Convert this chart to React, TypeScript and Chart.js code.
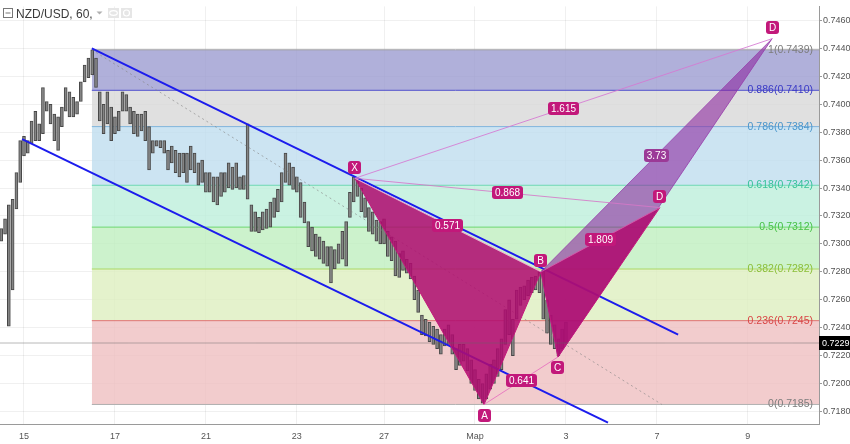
import React, { useEffect, useRef } from 'react';
import { Chart, registerables } from 'chart.js';

Chart.register(...registerables);

// 2-hour bars, NZD/USD (high / low)
const barHigh = [
  0.7311, 0.7318, 0.7328, 0.7332, 0.7351, 0.7374, 0.7377, 0.7374, 0.7388, 0.7395,
  0.7386, 0.7412, 0.7402, 0.7400, 0.7393, 0.7391, 0.7398, 0.7412, 0.7409, 0.7405,
  0.7402, 0.7416, 0.7428, 0.7433, 0.7439, 0.7433, 0.7409, 0.7400, 0.7409, 0.7398,
  0.7391, 0.7395, 0.7409, 0.7407, 0.7398, 0.7395, 0.7393, 0.7393, 0.7395, 0.7384,
  0.7374, 0.7374, 0.7374, 0.7374, 0.7367, 0.7370, 0.7367, 0.7365, 0.7365, 0.7365,
  0.7370, 0.7365, 0.7358, 0.7360, 0.7351, 0.7351, 0.7348, 0.7348, 0.7351, 0.7351,
  0.7358, 0.7355, 0.7358, 0.7348, 0.7349, 0.7386, 0.7328, 0.7323, 0.7319, 0.7323,
  0.7325, 0.7330, 0.7333, 0.7339, 0.7351, 0.7365, 0.7358, 0.7355, 0.7348, 0.7344,
  0.7330, 0.7316, 0.7312, 0.7307, 0.7305, 0.7302, 0.7298, 0.7298, 0.7296, 0.7300,
  0.7309, 0.7316, 0.7337, 0.7348, 0.7346, 0.7340, 0.7333, 0.7326, 0.7323, 0.7317,
  0.7316, 0.7318, 0.7309, 0.7305, 0.7302, 0.7293, 0.7295, 0.7289, 0.7286, 0.7277,
  0.7267, 0.7249, 0.7246, 0.7244, 0.7241, 0.7239, 0.7235, 0.7239, 0.7242, 0.7235,
  0.7225, 0.7228, 0.7228, 0.7225, 0.7217, 0.7210, 0.7203, 0.7200, 0.7207, 0.7214,
  0.7217, 0.7225, 0.7232, 0.7253, 0.7260, 0.7246, 0.7267, 0.7269, 0.7270, 0.7274,
  0.7276, 0.7277, 0.7280, 0.7281, 0.7260, 0.7249, 0.7242, 0.7232, 0.7239, 0.7244,
];
const barLow = [
  0.7302, 0.7307, 0.7241, 0.7267, 0.7325, 0.7344, 0.7363, 0.7365, 0.7372, 0.7374,
  0.7374, 0.7379, 0.7395, 0.7386, 0.7374, 0.7367, 0.7384, 0.7395, 0.7391, 0.7391,
  0.7393, 0.7402, 0.7416, 0.7419, 0.7421, 0.7412, 0.7388, 0.7379, 0.7386, 0.7374,
  0.7379, 0.7381, 0.7395, 0.7395, 0.7386, 0.7379, 0.7377, 0.7381, 0.7374, 0.7353,
  0.7365, 0.7370, 0.7369, 0.7365, 0.7353, 0.7358, 0.7351, 0.7348, 0.7351, 0.7344,
  0.7353, 0.7351, 0.7342, 0.7344, 0.7337, 0.7337, 0.7330, 0.7328, 0.7334, 0.7337,
  0.7340, 0.7339, 0.7340, 0.7339, 0.7339, 0.7332, 0.7309, 0.7309, 0.7308, 0.7310,
  0.7311, 0.7312, 0.7319, 0.7323, 0.7330, 0.7344, 0.7342, 0.7339, 0.7337, 0.7319,
  0.7315, 0.7298, 0.7295, 0.7291, 0.7289, 0.7286, 0.7284, 0.7272, 0.7282, 0.7286,
  0.7289, 0.7284, 0.7319, 0.7330, 0.7334, 0.7323, 0.7319, 0.7309, 0.7307, 0.7302,
  0.7300, 0.7300, 0.7291, 0.7288, 0.7277, 0.7276, 0.7281, 0.7279, 0.7275, 0.7260,
  0.7251, 0.7235, 0.7234, 0.7230, 0.7228, 0.7225, 0.7221, 0.7227, 0.7228, 0.7221,
  0.7210, 0.7213, 0.7216, 0.7209, 0.7200, 0.7195, 0.7189, 0.7186, 0.7189, 0.7196,
  0.7200, 0.7205, 0.7210, 0.7228, 0.7235, 0.7220, 0.7246, 0.7256, 0.7260, 0.7263,
  0.7265, 0.7267, 0.7265, 0.7246, 0.7236, 0.7228, 0.7225, 0.7220, 0.7225, 0.7229,
];

// time axis (in bar units) and price axis
const dayTickBars = [6, 30, 54, 78, 101, 125, 149, 173, 197];
const dayTickLabels = ['15', '17', '21', '23', '27', 'Мар', '3', '7', '9'];
const priceTicks = [
  0.718, 0.72, 0.722, 0.724, 0.726, 0.728, 0.73, 0.732,
  0.734, 0.736, 0.738, 0.74, 0.742, 0.744, 0.746,
];
const X_MIN = -0.33;
const X_MAX = 215.77;
const Y_MIN = 0.7171;
const Y_MAX = 0.74701;

// Fibonacci retracement
const fibRatios = ['1', '0.886', '0.786', '0.618', '0.5', '0.382', '0.236', '0'];
const fibPrices = [0.7439, 0.741, 0.7384, 0.7342, 0.7312, 0.7282, 0.7245, 0.7185];
const fibStartBar = 23.9;
const fibTrendBars = [23.9, 174.3];
const fibTrendPrices = [0.7439, 0.7185];

// channel
const upperChannelBars = [23.9, 178.6];
const upperChannelPrices = [0.744, 0.7235];
const lowerChannelBars = [5.5, 160.1];
const lowerChannelPrices = [0.7375, 0.7172];

// XABCD pattern
const patternNames = ['X', 'A', 'B', 'C', 'D'];
const patternBars = [93.3, 127.4, 142.4, 146.9, 173.8];
const patternPrices = [0.7347, 0.7185, 0.728, 0.7219, 0.7326];
const altDBar = 203.4;
const altDPrice = 0.7447;
const ratioLabels = ['0.571', '0.641', '1.809', '0.868'];
const ratioFrom = [0, 1, 2, 0];
const ratioTo = [2, 3, 4, 4];
const altRatioLabels = ['3.73', '1.615'];
const altRatioFrom = [2, 0];

const lastPrice = 0.7229;

// styles
const FONT = '"Liberation Sans", Arial, sans-serif';
const fibLineColors = ['#a0a0a0', '#5050cc', '#80b4dc', '#6cd8b2', '#6cd66c', '#acd866', '#e07272', '#b0b0b0'];
const fibLabelColors = ['#7c7c7c', '#3a3ac6', '#4a96cc', '#38c29a', '#48c248', '#8cbf3a', '#d94646', '#7c7c7c'];
const fibBandColors = [
  'rgba(156,156,209,0.8)',
  'rgba(216,216,216,0.8)',
  'rgba(191,221,239,0.8)',
  'rgba(189,239,219,0.8)',
  'rgba(191,239,191,0.8)',
  'rgba(221,239,191,0.8)',
  'rgba(239,191,193,0.8)',
];
const MAGENTA = '#c2187a';

function roundRect(ctx: CanvasRenderingContext2D, x: number, y: number, w: number, h: number, r: number) {
  ctx.beginPath();
  ctx.moveTo(x + r, y);
  ctx.lineTo(x + w - r, y);
  ctx.quadraticCurveTo(x + w, y, x + w, y + r);
  ctx.lineTo(x + w, y + h - r);
  ctx.quadraticCurveTo(x + w, y + h, x + w - r, y + h);
  ctx.lineTo(x + r, y + h);
  ctx.quadraticCurveTo(x, y + h, x, y + h - r);
  ctx.lineTo(x, y + r);
  ctx.quadraticCurveTo(x, y, x + r, y);
  ctx.closePath();
}

const overlayPlugin = {
  id: 'overlay',
  afterDatasetsDraw(chart: any) {
    const { ctx, chartArea, scales } = chart;
    const px = (b: number) => scales.x.getPixelForValue(b);
    const py = (p: number) => scales.y.getPixelForValue(p);
    ctx.save();

    // fib level labels
    ctx.font = `10.5px ${FONT}`;
    ctx.textAlign = 'right';
    ctx.textBaseline = 'middle';
    fibRatios.forEach((r, i) => {
      ctx.fillStyle = fibLabelColors[i];
      ctx.fillText(`${r}(${fibPrices[i].toFixed(4)})`, chartArea.right - 6, py(fibPrices[i]));
    });

    const box = (text: string, cx: number, cy: number, bg: string, minW: number) => {
      ctx.font = `10px ${FONT}`;
      const w = Math.max(minW, Math.round(ctx.measureText(text).width + 6));
      const h = 13;
      const x0 = Math.round(cx - w / 2);
      const y0 = Math.round(cy - h / 2);
      ctx.fillStyle = bg;
      roundRect(ctx, x0, y0, w, h, 3);
      ctx.fill();
      ctx.fillStyle = '#ffffff';
      ctx.textAlign = 'center';
      ctx.textBaseline = 'middle';
      ctx.fillText(text, x0 + w / 2, y0 + h / 2 + 0.5);
    };

    const pts = patternBars.map((b, i) => [px(b), py(patternPrices[i])]);
    const d2 = [px(altDBar), py(altDPrice)];

    ratioLabels.forEach((t, i) => {
      const a = pts[ratioFrom[i]];
      const b = pts[ratioTo[i]];
      box(t, (a[0] + b[0]) / 2, (a[1] + b[1]) / 2, MAGENTA, 0);
    });
    altRatioLabels.forEach((t, i) => {
      const a = pts[altRatioFrom[i]];
      box(t, (a[0] + d2[0]) / 2, (a[1] + d2[1]) / 2, i === 0 ? '#9b3a97' : MAGENTA, 0);
    });

    const above = [true, false, true, false, true];
    patternNames.forEach((n, i) => {
      box(n, pts[i][0], pts[i][1] + (above[i] ? -11 : 11), MAGENTA, 13);
    });
    box('D', d2[0], d2[1] - 11, MAGENTA, 13);

    // last price marker on the axis
    const yl = py(lastPrice);
    ctx.fillStyle = '#000000';
    ctx.fillRect(chartArea.right, Math.round(yl - 7), chart.width - chartArea.right, 14);
    ctx.fillStyle = '#ffffff';
    ctx.font = `9px ${FONT}`;
    ctx.textAlign = 'left';
    ctx.textBaseline = 'middle';
    ctx.fillText(lastPrice.toFixed(4), chartArea.right + 3, yl + 0.5);

    // legend / title
    ctx.strokeStyle = '#777';
    ctx.lineWidth = 1;
    ctx.strokeRect(3.5, 8.5, 9, 9);
    ctx.beginPath();
    ctx.moveTo(5.5, 13);
    ctx.lineTo(10.5, 13);
    ctx.stroke();
    ctx.fillStyle = '#3a3a3a';
    ctx.font = `12px ${FONT}`;
    ctx.textAlign = 'left';
    ctx.textBaseline = 'alphabetic';
    ctx.fillText('NZD/USD, 60,', 16, 17.5);
    ctx.fillStyle = '#b0b0b0';
    ctx.beginPath();
    ctx.moveTo(96.5, 11.5);
    ctx.lineTo(102.5, 11.5);
    ctx.lineTo(99.5, 14.5);
    ctx.closePath();
    ctx.fill();
    [108, 121].forEach((x0, k) => {
      ctx.fillStyle = '#e6e6e6';
      ctx.fillRect(x0, 8, 11, 10);
      ctx.strokeStyle = '#ffffff';
      ctx.lineWidth = 1.2;
      ctx.beginPath();
      if (k === 0) {
        ctx.ellipse(x0 + 5.5, 13, 3.8, 2.3, 0, 0, Math.PI * 2);
      } else {
        ctx.arc(x0 + 5.5, 13, 3, 0, Math.PI * 2);
      }
      ctx.stroke();
    });
    ctx.restore();
  },
};

export default function App() {
  const ref = useRef<HTMLCanvasElement>(null);

  useEffect(() => {
    const canvas = ref.current;
    if (!canvas) return;

    const datasets: any[] = [];
    const line = (data: any[], color: string, width: number, order: number, extra: any = {}) => ({
      type: 'line',
      data,
      borderColor: color,
      borderWidth: width,
      pointRadius: 0,
      tension: 0,
      fill: false,
      order,
      ...extra,
    });

    // fib levels, bands filled to the level above
    const fibIdx: number[] = [];
    fibPrices.forEach((p, i) => {
      fibIdx.push(datasets.length);
      datasets.push(
        line([{ x: fibStartBar, y: p }, { x: X_MAX, y: p }], fibLineColors[i], 1, 200 + i,
          i > 0 ? { fill: { target: fibIdx[i - 1] }, backgroundColor: fibBandColors[i - 1] } : {})
      );
    });

    // price bars
    datasets.push({
      type: 'bar',
      data: barHigh.map((h, k) => ({ x: k, y: [barLow[k], h] })),
      backgroundColor: '#858585',
      borderColor: '#474747',
      borderWidth: 1,
      borderSkipped: false,
      barThickness: 3,
      order: 150,
    });

    // fib trend (dotted)
    datasets.push(line(fibTrendBars.map((b, i) => ({ x: b, y: fibTrendPrices[i] })),
      'rgba(130,130,130,0.6)', 1, 140, { borderDash: [2, 3] }));

    // channel
    datasets.push(line(upperChannelBars.map((b, i) => ({ x: b, y: upperChannelPrices[i] })), '#1c1ced', 2, 130));
    datasets.push(line(lowerChannelBars.map((b, i) => ({ x: b, y: lowerChannelPrices[i] })), '#1c1ced', 2, 130));

    const P = (i: number) => ({ x: patternBars[i], y: patternPrices[i] });
    const D2 = { x: altDBar, y: altDPrice };

    // triangle targets (edges)
    const iXB = datasets.length;
    datasets.push(line([P(0), P(2)], 'rgba(236,170,212,0.95)', 1, 112));
    const iBD = datasets.length;
    datasets.push(line([P(2), P(4)], 'rgba(214,90,170,0.9)', 1, 111));
    const iBD2 = datasets.length;
    datasets.push(line([P(2), D2], 'rgba(150,60,170,0.75)', 1, 110));

    // filled triangles
    datasets.push(line([P(2), P(3), D2], 'rgba(150,60,170,0.8)', 1, 125,
      { fill: { target: iBD2 }, backgroundColor: 'rgba(140,36,158,0.58)' }));
    datasets.push(line([P(2), P(3), P(4)], MAGENTA, 1, 124,
      { fill: { target: iBD }, backgroundColor: 'rgba(176,12,112,0.86)' }));
    datasets.push(line([P(0), P(1), P(2)], MAGENTA, 1, 123,
      { fill: { target: iXB }, backgroundColor: 'rgba(176,12,112,0.86)' }));

    // ratio lines
    datasets.push(line([P(1), P(3)], 'rgba(232,120,192,0.95)', 1, 109));
    datasets.push(line([P(0), P(4)], 'rgba(214,120,200,0.85)', 1, 108));
    datasets.push(line([P(0), D2], 'rgba(214,120,210,0.85)', 1, 107));

    // last price line
    datasets.push(line([{ x: X_MIN, y: lastPrice }, { x: X_MAX, y: lastPrice }], 'rgba(100,100,100,0.45)', 1, 100));

    const chart = new Chart(canvas, {
      type: 'line',
      data: { datasets },
      plugins: [overlayPlugin],
      options: {
        animation: false,
        responsive: false,
        events: [],
        layout: { padding: 0 },
        plugins: {
          legend: { display: false },
          tooltip: { enabled: false },
          title: { display: false },
        },
        scales: {
          x: {
            type: 'linear',
            min: X_MIN,
            max: X_MAX,
            offset: false,
            afterBuildTicks: (axis: any) => {
              axis.ticks = dayTickBars.map((v) => ({ value: v }));
            },
            afterFit: (axis: any) => {
              axis.height = 20;
            },
            ticks: {
              autoSkip: false,
              maxRotation: 0,
              padding: 7,
              color: '#555',
              font: { family: 'Liberation Sans', size: 9 },
              callback: (_v: any, i: number) => dayTickLabels[i],
            },
            grid: { color: 'rgba(0,0,0,0.06)', drawTicks: false, offset: false },
            border: { display: true, color: '#9a9a9a' },
          },
          y: {
            type: 'linear',
            position: 'right',
            min: Y_MIN,
            max: Y_MAX,
            afterBuildTicks: (axis: any) => {
              axis.ticks = priceTicks.map((v) => ({ value: v }));
            },
            afterFit: (axis: any) => {
              axis.width = 31;
            },
            ticks: {
              padding: 1,
              color: '#555',
              font: { family: 'Liberation Sans', size: 9 },
              callback: (v: any) => Number(v).toFixed(4),
            },
            grid: { color: 'rgba(0,0,0,0.06)', tickLength: 3, tickColor: '#9a9a9a' },
            border: { display: true, color: '#9a9a9a' },
          },
        },
      } as any,
    });

    return () => chart.destroy();
  }, []);

  return (
    <div style={{ position: 'fixed', left: 0, top: 0, width: 850, height: 444, background: '#fff' }}>
      <canvas ref={ref} width={850} height={444} style={{ display: 'block', width: 850, height: 444 }} />
    </div>
  );
}
